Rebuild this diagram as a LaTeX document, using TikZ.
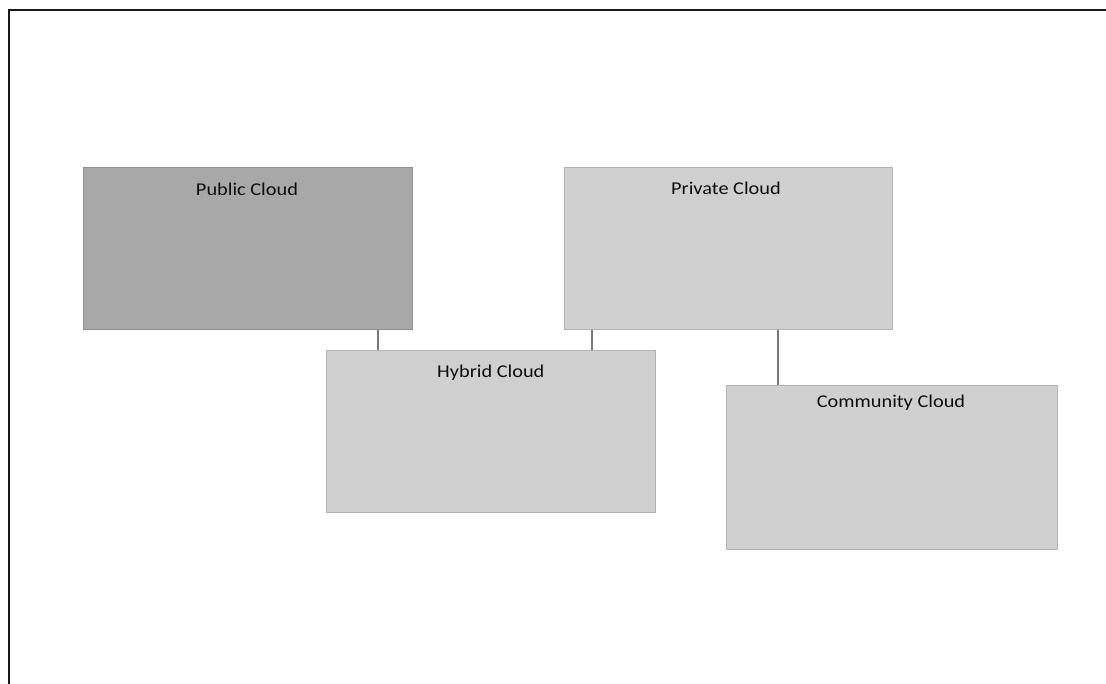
\documentclass[tikz,border=0pt]{standalone}
\usepackage{fontspec}
\usepackage{graphicx}
\setmainfont{Carlito}
\definecolor{boxlight}{RGB}{208,208,208}
\definecolor{boxdark}{RGB}{168,168,168}
\definecolor{boxedge}{RGB}{178,178,178}
\definecolor{linkgray}{RGB}{120,120,120}
\newcommand{\cloudlabel}[1]{\scalebox{1.13}[1]{#1}}
\begin{document}
\begin{tikzpicture}[x=1pt,y=-1pt,
  cloudbox/.style={draw=boxedge, line width=0.8pt, fill=boxlight, rectangle, inner sep=0pt},
  darkbox/.style={cloudbox, fill=boxdark, draw=boxdark!85!black},
  cloudtext/.style={font=\fontsize{18}{21}\selectfont, text=black!95, inner sep=0pt, anchor=base},
  link/.style={draw=linkgray, line width=1.8pt}]
\useasboundingbox (0,0) rectangle (1106,684);
\draw[line width=2pt, black!90] (1106,10) -- (9,10) -- (9,684);
\node[darkbox, minimum width=329pt, minimum height=162pt] (pub) at (247.8,248.3) {};
\node[cloudbox, minimum width=328pt, minimum height=162pt] (priv) at (728.2,248.3) {};
\node[cloudbox, minimum width=329.7pt, minimum height=162.7pt] (hyb) at (490.8,431.3) {};
\node[cloudbox, minimum width=330.6pt, minimum height=163.6pt] (com) at (892,467.5) {};
\node[cloudtext] (pubt) at (247,196) {\cloudlabel{Public Cloud}};
\node[cloudtext] (privt) at (726,194.3) {\cloudlabel{Private Cloud}};
\node[cloudtext] (hybt) at (490.8,377.3) {\cloudlabel{Hybrid Cloud}};
\node[cloudtext] (comt) at (891,407.7) {\cloudlabel{Community Cloud}};
\coordinate (c1) at (377.7,0);
\coordinate (c2) at (591.7,0);
\coordinate (c3) at (777.7,0);
\draw[link] (pub.south -| c1) -- (hyb.north -| c1);
\draw[link] (priv.south -| c2) -- (hyb.north -| c2);
\draw[link] (priv.south -| c3) -- (com.north -| c3);
\end{tikzpicture}
\end{document}
